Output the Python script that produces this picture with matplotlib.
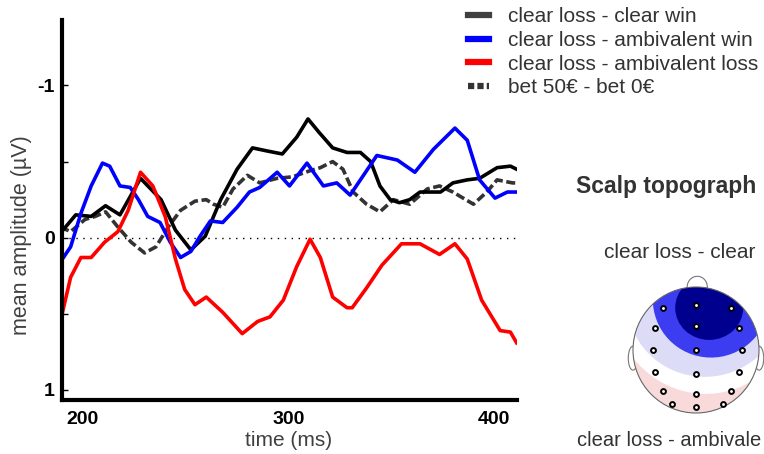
import matplotlib
matplotlib.use('Agg')
import matplotlib.pyplot as plt
from matplotlib.lines import Line2D
from matplotlib.patches import Circle, Ellipse

plt.rcParams['font.family'] = ['Liberation Sans', 'DejaVu Sans']

# ERP difference waves, time in ms, amplitude in microvolt
t_win = [189, 196.5, 204, 211, 218, 228, 238, 245, 252.5, 259.5, 267, 275, 282.5, 289.5, 297,
         304, 309.5, 315, 321.5, 328.5, 335, 340, 344.5, 349.5, 354, 359, 364, 369, 374, 380,
         387, 393, 401.5, 408, 411]
v_win = [-0.03, -0.15, -0.14, -0.21, -0.15, -0.39, -0.25, -0.05, 0.08, -0.01, -0.25, -0.45, -0.59,
         -0.57, -0.55, -0.66, -0.78, -0.69, -0.59, -0.56, -0.56, -0.50, -0.34, -0.25, -0.23, -0.25,
         -0.30, -0.30, -0.30, -0.36, -0.38, -0.39, -0.46, -0.47, -0.45]

t_amb_win = [189, 194, 199, 204, 209.5, 213, 218, 223, 227, 231.5, 237.5, 242.5, 247.5, 252.5, 257,
             262, 268, 275, 281, 286, 294.5, 300.5, 309, 317, 323.5, 330, 336, 343, 353, 361.5,
             370.5, 381, 387, 393, 400.5, 406.5, 411]
v_amb_win = [0.16, 0.06, -0.16, -0.34, -0.49, -0.47, -0.34, -0.33, -0.25, -0.14, -0.10, 0.03, 0.13,
             0.09, -0.01, -0.11, -0.10, -0.20, -0.30, -0.33, -0.43, -0.34, -0.49, -0.34, -0.36,
             -0.28, -0.40, -0.54, -0.51, -0.43, -0.58, -0.72, -0.64, -0.38, -0.26, -0.30, -0.30]

t_amb_loss = [189, 194, 199, 204, 210.5, 217, 222, 228, 234, 240, 245, 249.5, 254.5, 260, 268,
              277.5, 285, 291, 297.5, 304, 310.5, 315.5, 321.5, 328.5, 331, 338, 345.5, 355, 364,
              373.5, 381, 387, 394, 403, 408, 411]
v_amb_loss = [0.55, 0.26, 0.13, 0.13, 0.03, -0.04, -0.18, -0.43, -0.34, -0.14, 0.14, 0.34, 0.44,
              0.39, 0.49, 0.63, 0.55, 0.52, 0.41, 0.19, 0.01, 0.13, 0.39, 0.46, 0.46, 0.33, 0.18,
              0.04, 0.04, 0.11, 0.04, 0.14, 0.41, 0.61, 0.62, 0.69]

t_bet = [189, 194, 201, 206, 211, 217, 223.5, 230, 235.5, 241.5, 247.5, 254.5, 260, 263.5, 268,
         273, 280, 286, 294.5, 302, 310.5, 315.5, 321.5, 326.5, 331.5, 338, 344.5, 351, 359,
         367.5, 373.5, 380, 390, 396.5, 401.5, 409, 411]
v_bet = [-0.07, -0.04, -0.12, -0.14, -0.17, -0.07, 0.03, 0.10, 0.06, -0.07, -0.18, -0.24, -0.25,
         -0.22, -0.20, -0.32, -0.41, -0.36, -0.39, -0.40, -0.44, -0.46, -0.50, -0.45, -0.30, -0.22,
         -0.17, -0.25, -0.22, -0.32, -0.34, -0.30, -0.22, -0.30, -0.38, -0.36, -0.36]

labels = ['clear loss - clear win', 'clear loss - ambivalent win',
          'clear loss - ambivalent loss', 'bet 50€ - bet 0€']

# electrode positions on the head (unit circle)
el_x = [-0.52, 0, 0.55, -0.65, 0, 0.68, -0.68, 0, 0.73, -0.65, 0, 0.68, -0.52, 0, 0.55, -0.38, 0, 0.43]
el_y = [0.67, 0.71, 0.67, 0.35, 0.38, 0.35, 0.0, 0.0, 0.0, -0.35, -0.38, -0.35, -0.65, -0.70, -0.65,
        -0.86, -0.90, -0.86]

fig = plt.figure(figsize=(7.64, 4.54), dpi=100)
ax = fig.add_axes([62/764, 1-400/454, 455/764, 380/454])

ax.axhline(0, color='k', lw=1, ls=(0, (1, 4)))
ax.plot(t_bet, v_bet, color='#333333', lw=2.6, ls=(0, (2.5, 1)))
ax.plot(t_win, v_win, color='black', lw=2.6, solid_joinstyle='round')
ax.plot(t_amb_win, v_amb_win, color='#0000ff', lw=2.6, solid_joinstyle='round')
ax.plot(t_amb_loss, v_amb_loss, color='#ff0000', lw=2.6, solid_joinstyle='round')

ax.set_xlim(189.8, 411.2)
ax.set_ylim(1.066, -1.43)
for s in ['top', 'right']:
    ax.spines[s].set_visible(False)
for s in ['left', 'bottom']:
    ax.spines[s].set_linewidth(3)
ax.set_xticks([200, 300, 400])
ax.set_xticklabels(['200', '300', '400'], fontsize=14, fontweight='bold')
ax.set_yticks([-1, 0, 1])
ax.set_yticklabels(['-1', '0', '1'], fontsize=14, fontweight='bold')
ax.set_yticks([-0.5, 0.5], minor=True)
ax.tick_params(axis='x', length=0, pad=8)
ax.tick_params(axis='y', which='both', direction='in', length=4, width=1, pad=5)
fig.text(22/764, 1-235/454, 'mean amplitude (µV)', rotation=90, fontsize=15.5,
         color='#404040', ha='center', va='center')
fig.text(289/764, 1-440/454, 'time (ms)', fontsize=15, color='#404040', ha='center', va='center')

handles = [Line2D([], [], color='#404040', lw=4.5),
           Line2D([], [], color='#0000ff', lw=4.5),
           Line2D([], [], color='#ff0000', lw=4.5),
           Line2D([], [], color='#333333', lw=4.5, ls=(0, (1, 0.5)))]
fig.legend(handles, labels, loc='upper left', bbox_to_anchor=(468/764, 1-7/454),
           frameon=False, fontsize=15, handlelength=1.0, handletextpad=0.9,
           labelspacing=0.23, borderpad=0, borderaxespad=0, labelcolor='#333333')

# scalp topography panel (texts run past the right edge in the source figure)
fig.text(576/764, 1-186/454, 'Scalp topograph', fontsize=16.5, fontweight='bold',
         color='#333333', ha='left', va='center')
fig.text(604/764, 1-252/454, 'clear loss - clear', fontsize=15, color='#333333',
         ha='left', va='center')
fig.text(577/764, 0.008, 'clear loss - ambivale', fontsize=14.5, color='#333333',
         ha='left', va='bottom')

hx = fig.add_axes([620/764, 1-420/454, 144/764, 150/454])
hx.set_xlim((620-696)/63, (764-696)/63)
hx.set_ylim((350-420)/63, (350-270)/63)
hx.axis('off')

hx.add_patch(Ellipse((0.02, 1.0), 0.32, 0.34, fc='white', ec='#777777', lw=0.8, zorder=1))
hx.add_patch(Ellipse((-1.0, -0.13), 0.15, 0.38, fc='white', ec='#777777', lw=0.8, zorder=1))
hx.add_patch(Ellipse((1.0, -0.13), 0.15, 0.38, fc='white', ec='#777777', lw=0.8, zorder=1))
head = Circle((0, 0), 1, fc='#f9dada', ec='none', zorder=2)
hx.add_patch(head)
for (cx, cy, w, h, ang, col) in [(0.13, 0.80, 2.9, 3.0, 15, 'white'),
                                 (0.15, 0.80, 2.5, 2.45, 15, '#dcdcf7'),
                                 (0.24, 0.80, 1.85, 1.84, 10, '#3c3cf0'),
                                 (0.21, 0.67, 1.08, 1.02, 0, '#00008f')]:
    e = Ellipse((cx, cy), w, h, angle=ang, fc=col, ec='none', zorder=3)
    hx.add_patch(e)
    e.set_clip_path(head)
hx.add_patch(Circle((0, 0), 1, fc='none', ec='#666666', lw=0.8, zorder=5))
hx.plot(el_x, el_y, 'o', ms=3.5, mfc='white', mec='black', mew=1.4, zorder=6)

fig.savefig('out.png', dpi=100)
